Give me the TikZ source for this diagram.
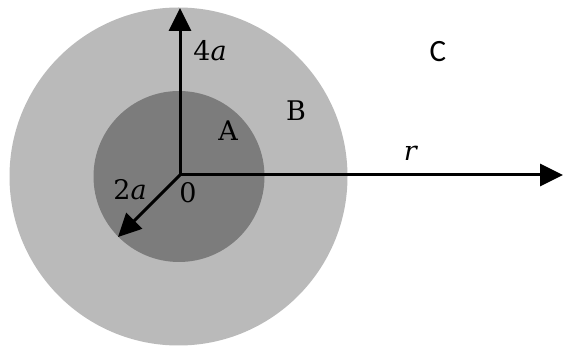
\documentclass[tikz,border=0pt]{standalone}
\usepackage{fontspec}
\setmainfont{DejaVu Serif}
\newfontfamily\calib{Carlito}
\usetikzlibrary{arrows.meta}
\definecolor{ringgray}{HTML}{BABABA}
\definecolor{coregray}{HTML}{7C7C7C}
\tikzset{
  axisarrow/.style={line width=3pt,-{Triangle[length=23pt,width=22pt]}},
  lbl/.style={font=\fontsize{27}{32}\selectfont, inner sep=0pt}
}
\begin{document}
\begin{tikzpicture}[x=1pt,y=-1pt]
\useasboundingbox (0,0) rectangle (563,347);
\fill[white] (0,0) rectangle (563,347);
\node[circle, fill=ringgray, minimum size=338pt, inner sep=0pt] (outer) at (178.5,176.5) {};
\node[circle, fill=coregray, minimum size=171pt, inner sep=0pt] (inner) at (179,176.5) {};
\coordinate (O) at (180,175);
\coordinate (top) at (180,8);
\coordinate (right) at (563,175);
\coordinate (diag) at (118,237);
\draw[axisarrow] (O) -- (top);
\draw[axisarrow] (O) -- (right);
\draw[axisarrow] (O) -- (diag);
\node[lbl] (l4a) at (210,51) {4\textit{a}};
\node[lbl] (lB) at (296,111) {B};
\node[lbl] (lA) at (228,131) {A};
\node[lbl, font=\fontsize{31}{36}\selectfont] (lC) at (438,52) {\calib C};
\node[lbl] (lr) at (411,153) {\textit{r}};
\node[lbl] (l2a) at (130,190) {2\textit{a}};
\node[lbl] (l0) at (188,193) {0};
\end{tikzpicture}
\end{document}
